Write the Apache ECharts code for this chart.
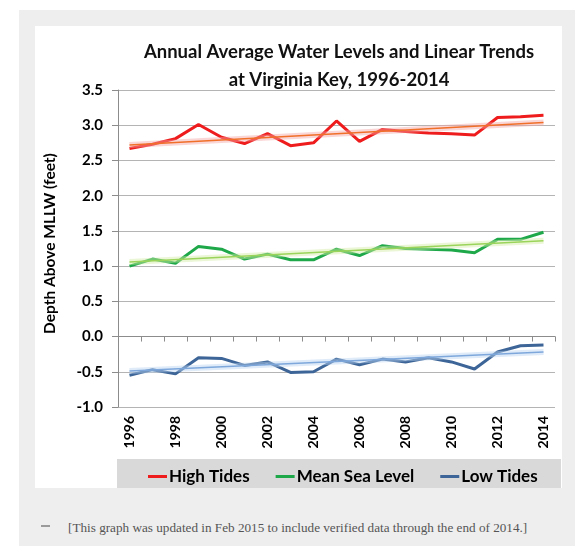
<!DOCTYPE html>
<html>
<head>
<meta charset="utf-8">
<title>Annual Average Water Levels and Linear Trends at Virginia Key, 1996-2014</title>
<script src="https://cdn.jsdelivr.net/npm/echarts@6/dist/echarts.min.js"></script>
<style>
html,body{margin:0;padding:0;background:#fff;}
.box{position:absolute;}
#outer{left:19px;top:10px;width:556px;height:536px;background:#eeeeee;}
#panel{left:35px;top:26px;width:527px;height:462px;background:#fff;}
#legbox{left:117px;top:459px;width:444px;height:29px;background:#d9d9d9;}
#dash{left:41px;top:525px;width:9px;height:2px;background:#9a9a9a;}
#note{left:68px;top:520px;font:13.2px "Liberation Serif",serif;color:#555;white-space:nowrap;}
#main{position:absolute;left:0;top:0;width:584px;height:556px;}
</style>
</head>
<body>
<div class="box" id="outer"></div>
<div class="box" id="panel"></div>
<div class="box" id="legbox"></div>
<div class="box" id="dash"></div>
<div class="box" id="note">[This graph was updated in Feb 2015 to include verified data through the end of 2014.]</div>
<div id="main"></div>
<script type="text/javascript">
var years = ['1996','1997','1998','1999','2000','2001','2002','2003','2004','2005',
             '2006','2007','2008','2009','2010','2011','2012','2013','2014'];
var highTides = [2.67,2.73,2.81,3.01,2.83,2.74,2.88,2.71,2.75,3.06,2.77,2.94,2.91,2.89,2.88,2.86,3.11,3.12,3.14];
var meanSeaLevel = [1.00,1.10,1.04,1.28,1.24,1.10,1.17,1.09,1.09,1.24,1.15,1.29,1.25,1.24,1.23,1.19,1.38,1.38,1.48];
var lowTides = [-0.55,-0.47,-0.53,-0.30,-0.31,-0.41,-0.36,-0.51,-0.50,-0.32,-0.40,-0.32,-0.36,-0.30,-0.36,-0.46,-0.22,-0.13,-0.12];
// trend line end points (1996, 2014)
var highTrend = [2.72, 3.04];
var mslTrend = [1.06, 1.36];
var lowTrend = [-0.49, -0.22];

var font = 'Lato';

function trendData(ends){
	return [[years[0], ends[0]], [years[years.length-1], ends[1]]];
}

function trendSeries(ends, glow, color){
	return [{
		type:'line', data:trendData(ends), symbol:'none', silent:true, z:3,
		lineStyle:{color:glow, width:6, opacity:0.45}
	},{
		type:'line', data:trendData(ends), symbol:'none', silent:true, z:4,
		lineStyle:{color:color, width:1.5}
	}];
}

var myChart = echarts.init(document.getElementById('main'));
var option = {
	backgroundColor:'transparent',
	animation:false,
	title:{
		text:'Annual Average Water Levels and Linear Trends\nat Virginia Key, 1996-2014',
		left:334, top:33, textAlign:'center',
		textStyle:{fontFamily:font, fontSize:18.5, fontWeight:'bold', color:'#111', lineHeight:28}
	},
	legend:{
		left:143, top:463,
		itemWidth:19, itemHeight:3, itemGap:26,
		icon:'rect',
		data:['High Tides','Mean Sea Level','Low Tides'],
		textStyle:{fontFamily:font, fontSize:17, fontWeight:'bold', color:'#000', padding:[0,0,0,-3]}
	},
	grid:{left:118, right:29, top:90, bottom:149, containLabel:false},
	xAxis:{
		type:'category',
		data:years,
		boundaryGap:true,
		axisLine:{lineStyle:{color:'#8c8c8c'}},
		axisTick:{show:true, interval:0, length:5, lineStyle:{color:'#8c8c8c'}},
		axisLabel:{interval:1, rotate:90, margin:9, fontFamily:font, fontSize:14, fontWeight:'bold', color:'#000'},
		splitLine:{show:false}
	},
	yAxis:{
		type:'value',
		min:-1, max:3.5, interval:0.5,
		name:'Depth Above MLLW (feet)',
		nameLocation:'middle', nameGap:60, nameRotate:90,
		nameTextStyle:{fontFamily:font, fontSize:15.5, fontWeight:'bold', color:'#000', padding:[0,0,0,10]},
		axisLine:{show:true, lineStyle:{color:'#8c8c8c'}},
		axisTick:{show:true, length:6, lineStyle:{color:'#8c8c8c'}},
		axisLabel:{margin:15, fontFamily:font, fontSize:15, fontWeight:'bold', color:'#000',
			formatter:function(v){ return v.toFixed(1); }},
		splitLine:{lineStyle:{color:'#b4b4b4'}}
	},
	series:[
		{name:'High Tides', type:'line', data:highTides, symbol:'none', z:2,
			itemStyle:{color:'#ee1c1c'}, lineStyle:{color:'#ee1c1c', width:3}},
		{name:'Mean Sea Level', type:'line', data:meanSeaLevel, symbol:'none', z:2,
			itemStyle:{color:'#1fa84a'}, lineStyle:{color:'#1fa84a', width:3}},
		{name:'Low Tides', type:'line', data:lowTides, symbol:'none', z:2,
			itemStyle:{color:'#3d6597'}, lineStyle:{color:'#3d6597', width:3}}
	].concat(trendSeries(highTrend, '#f5a3a3', '#f0702a'))
	 .concat(trendSeries(mslTrend, '#d2eca4', '#9bd45a'))
	 .concat(trendSeries(lowTrend, '#b9d2f0', '#7ea8dc'))
};
myChart.setOption(option);
</script>
</body>
</html>
